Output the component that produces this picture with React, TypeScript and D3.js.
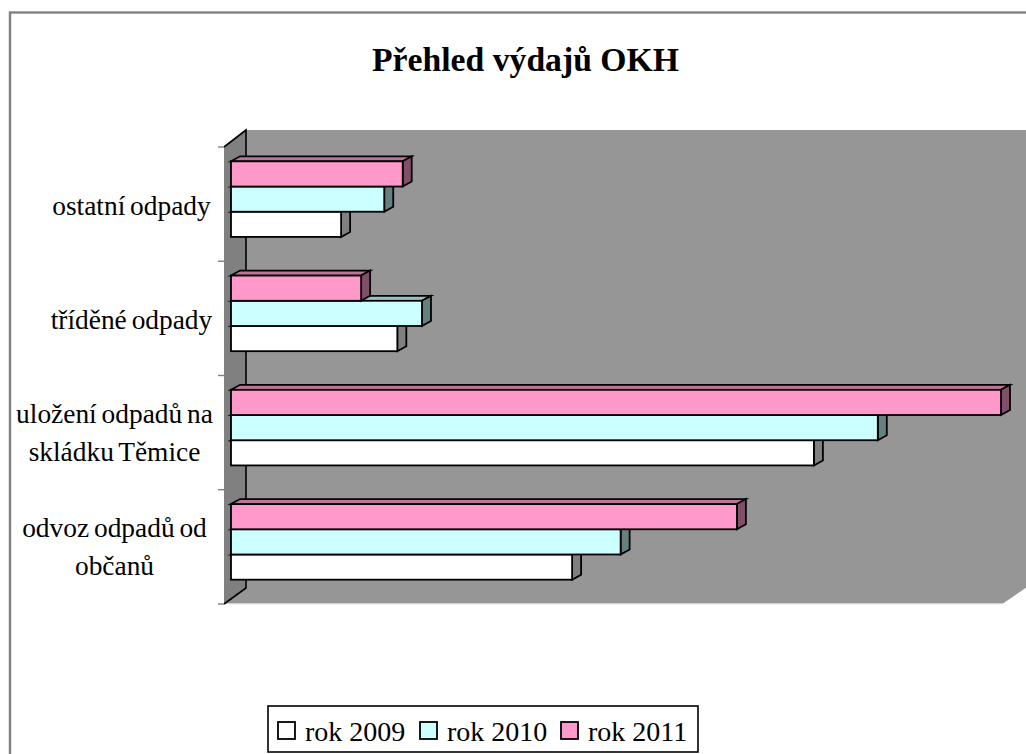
import React from "react";
import * as d3 from "d3";

const categories = ["ostatní odpady", "tříděné odpady", "uložení odpadů na skládku Těmice", "odvoz odpadů od občanů"];
const categoryLines = [["ostatní odpady"], ["tříděné odpady"], ["uložení odpadů na", "skládku Těmice"], ["odvoz odpadů od", "občanů"]];
const seriesNames = ["rok 2011", "rok 2010", "rok 2009"];
const rok2011 = [22.3, 16.9, 100, 65.7];
const rok2010 = [19.9, 24.8, 84.0, 50.6];
const rok2009 = [14.3, 21.6, 75.7, 44.3];
const seriesValues = [rok2011, rok2010, rok2009];
const fills = ["#ff99cc", "#ccffff", "#ffffff"];
const tops = ["#c0739a", "#99c0c0", "#c0c0c0"];
const sides = ["#80506a", "#668080", "#808080"];
const legendOrder = [2, 1, 0];

const SERIF = "'Liberation Serif', 'Times New Roman', serif";

export default function App() {
  const x = d3.scaleLinear().domain([0, 100]).range([231, 1001]);
  const y = d3.scaleBand().domain(categories).range([147, 604]);
  const dx = 9, dy = 5, barH = 25.2;
  const legendX = [278, 420, 561];
  return (
    <svg width={1026} height={754} viewBox="0 0 1026 754" style={{ position: "absolute", left: 0, top: 0, display: "block" }}>
      <rect x={0} y={0} width={1026} height={754} fill="#fff" />
      <rect x={10} y={12.5} width={1030} height={760} fill="#fff" stroke="#808080" strokeWidth={2.4} />
      <text x={525.5} y={71} textAnchor="middle" fontFamily={SERIF} fontWeight="bold" fontSize={33.7} fill="#000">Přehled výdajů OKH</text>

      <polygon points="246,130 1030,130 1030,585 1003,603.5 224,603.5 246,588" fill="#969696" />
      <line x1={224} y1={603.8} x2={1003} y2={603.8} stroke="#d8d8d8" strokeWidth={1} />
      <polygon points="224,147 246,130 246,588 224,604" fill="#808080" />
      <path d="M224,147L246,130V588L224,604" fill="none" stroke="#000" strokeWidth={1.6} />
      {[...categories.map((c) => y(c) as number), 604].map((t, i) => (
        <line key={i} x1={218} x2={224} y1={t} y2={t} stroke="#808080" strokeWidth={1.4} />
      ))}

      {categories.map((c, ci) => {
        const y0 = (y(c) as number) + y.bandwidth() / 2 - barH * 1.5 - 5;
        const bars = seriesValues.map((vals, si) => ({ si, x1: x(vals[ci]), top: y0 + si * barH }));
        return (
          <g key={c}>
            {[2, 1, 0].map((si) => {
              const b = bars[si];
              const L = x(0), R = b.x1, T = b.top, B = T + barH;
              return (
                <g key={si} stroke="#000" strokeWidth={1.8} strokeLinejoin="miter">
                  <polygon points={`${L},${T} ${L + dx},${T - dy} ${R + dx},${T - dy} ${R},${T}`} fill={tops[si]} />
                  <polygon points={`${R},${T} ${R + dx},${T - dy} ${R + dx},${B - dy} ${R},${B}`} fill={sides[si]} />
                  <rect x={L} y={T} width={R - L} height={barH} fill={fills[si]} />
                </g>
              );
            })}
          </g>
        );
      })}

      {categories.map((c, ci) => {
        const lines = categoryLines[ci];
        const mid = (y(c) as number) + y.bandwidth() / 2 + 2;
        return (
          <text key={c} textAnchor="middle" fontFamily={SERIF} fontSize={27.4} wordSpacing={-2} fill="#000">
            {lines.map((ln, i) => (
              <tspan key={i} x={ci >= 2 ? 114.5 : 131.5} y={mid + (lines.length > 1 ? 7.5 : 9) + (i - (lines.length - 1) / 2) * 38}>{ln}</tspan>
            ))}
          </text>
        );
      })}

      <rect x={268} y={706} width={430} height={46} fill="#fff" stroke="#000" strokeWidth={1.6} />
      {legendOrder.map((si, i) => (
        <g key={si}>
          <rect x={legendX[i]} y={722} width={17} height={17} fill={fills[si]} stroke="#000" strokeWidth={1.8} />
          <text x={legendX[i] + 27} y={741} fontFamily={SERIF} fontSize={28} fill="#000">{seriesNames[si]}</text>
        </g>
      ))}
    </svg>
  );
}
